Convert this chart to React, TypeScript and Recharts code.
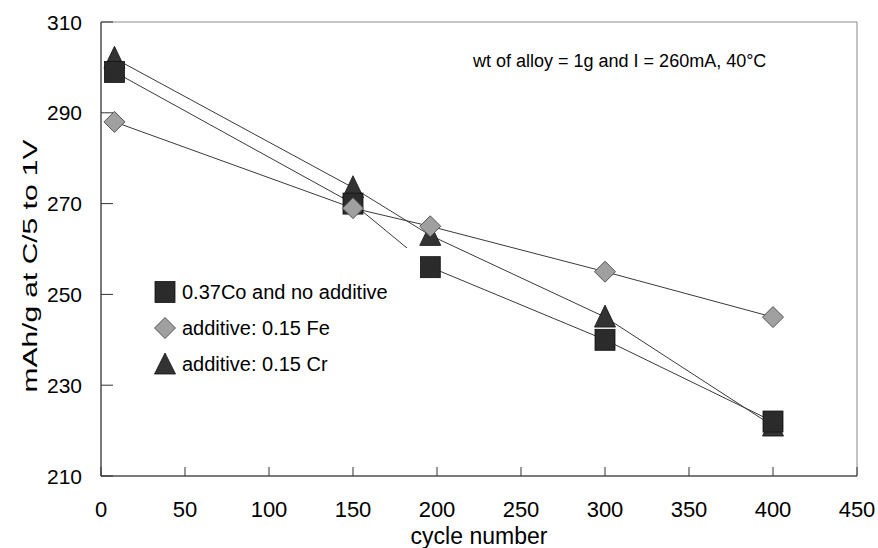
import React from 'react';
import { LineChart, Line, XAxis, YAxis, ReferenceArea, Legend } from 'recharts';

const cycles = [8, 150, 196, 300, 400];
const coNoAdditive = [299, 270, 256, 240, 222];
const fe015 = [288, 269, 265, 255, 245];
const cr015 = [302, 273.5, 263, 245, 221];
const seriesNames = ['0.37Co and no additive', 'additive: 0.15 Fe', 'additive: 0.15 Cr'];
const xTicks = [0, 50, 100, 150, 200, 250, 300, 350, 400, 450];
const yTicks = [210, 230, 250, 270, 290, 310];
const xTitle = 'cycle number';
const yTitle = 'mAh/g at C/5 to 1V';
const note = 'wt of alloy = 1g and I = 260mA, 40°C';

const data = cycles.map((c, i) => ({ cycle: c, co: coNoAdditive[i], fe: fe015[i], cr: cr015[i] }));

const FONT = '"Liberation Sans", Arial, sans-serif';

const SquareMark = ({ cx, cy }: any) => (
  <rect x={cx - 10} y={cy - 10.5} width={20} height={21} fill="#2b2b2b" stroke="#111" strokeWidth={0.8} />
);
const DiamondMark = ({ cx, cy }: any) => (
  <path d={`M${cx},${cy - 10.5} L${cx + 10.5},${cy} L${cx},${cy + 10.5} L${cx - 10.5},${cy} Z`} fill="#a0a0a0" stroke="#555" strokeWidth={1} />
);
const TriangleMark = ({ cx, cy }: any) => (
  <path d={`M${cx},${cy - 12} L${cx + 10.5},${cy + 10} L${cx - 10.5},${cy + 10} Z`} fill="#333" stroke="#111" strokeWidth={0.8} />
);

const XTick = (props: any) => {
  const { x, y, payload } = props;
  return (
    <g>
      <line x1={x} x2={x} y1={y} y2={y - 9} stroke="#333" strokeWidth={1} />
      <text x={x} y={y + 41} textAnchor="middle" fontSize={22} fontFamily={FONT} fill="#000">{payload.value}</text>
    </g>
  );
};

const YTick = (props: any) => {
  const { x, y, payload } = props;
  return (
    <g>
      <line x1={x} x2={x + 12} y1={y} y2={y} stroke="#333" strokeWidth={1} />
      <text x={x - 19} y={y + 7.5} textAnchor="end" fontSize={21} fontFamily={FONT} fill="#000">{payload.value}</text>
    </g>
  );
};

const YLabel = (props: any) => {
  const vb = props.viewBox || { x: 0, y: 22, width: 101, height: 454 };
  const cx = 29;
  const cy = vb.y + vb.height / 2 + 17;
  return (
    <text x={cx} y={cy} transform={`rotate(-90 ${cx} ${cy})`} textAnchor="middle" dominantBaseline="central"
      fontSize={21} fontFamily={FONT} fill="#000" textLength={253} lengthAdjust="spacingAndGlyphs">{yTitle}</text>
  );
};

const XLabel = (props: any) => {
  const vb = props.viewBox || { x: 101, y: 476, width: 756, height: 72 };
  return (
    <text x={vb.x + vb.width / 2} y={544} textAnchor="middle" fontSize={23} fontFamily={FONT} fill="#000">{xTitle}</text>
  );
};

const legendIcons = [
  (<svg width={22} height={22} key="a"><rect x={1} y={0.5} width={20} height={21} fill="#2b2b2b" stroke="#111" strokeWidth={0.8} /></svg>),
  (<svg width={22} height={22} key="b"><path d="M11,0.5 L21.5,11 L11,21.5 L0.5,11 Z" fill="#a0a0a0" stroke="#555" /></svg>),
  (<svg width={22} height={22} key="c"><path d="M11,0 L21.5,21 L0.5,21 Z" fill="#333" stroke="#111" strokeWidth={0.8} /></svg>),
];

const LegendContent = () => (
  <div style={{ background: '#fff', width: 270, height: 132, position: 'relative', fontFamily: FONT }}>
    {seriesNames.map((n, i) => (
      <div key={n} style={{ position: 'absolute', left: 4, top: 33 + i * 36, height: 22, display: 'flex', alignItems: 'center', whiteSpace: 'nowrap' }}>
        {legendIcons[i]}
        <span style={{ fontSize: 20, marginLeft: 6, color: '#000' }}>{n}</span>
      </div>
    ))}
  </div>
);

export default function App() {
  return (
    <div style={{ position: 'absolute', left: 0, top: 0, width: 878, height: 548, background: '#fff' }}>
      <LineChart width={878} height={548} data={data} margin={{ top: 22, right: 21, left: 0, bottom: 0 }}>
        <ReferenceArea x1={0} x2={450} y1={210} y2={310} fill="none" stroke="#888" strokeWidth={1} />
        <XAxis dataKey="cycle" type="number" domain={[0, 450]} ticks={xTicks} height={72}
          tickSize={0} tickMargin={0} tick={<XTick />} axisLine={{ stroke: '#333' }} interval={0}
          label={XLabel} />
        <YAxis type="number" domain={[210, 310]} ticks={yTicks} width={101}
          tickSize={0} tickMargin={0} tick={<YTick />} axisLine={{ stroke: '#333' }} interval={0}
          label={YLabel} />
        <Line dataKey="cr" name={seriesNames[2]} stroke="#3a3a3a" strokeWidth={1} isAnimationActive={false}
          dot={(p: any) => <TriangleMark key={`cr${p.index}`} cx={p.cx} cy={p.cy} />} activeDot={false} />
        <Line dataKey="co" name={seriesNames[0]} stroke="#3a3a3a" strokeWidth={1} isAnimationActive={false}
          dot={(p: any) => <SquareMark key={`co${p.index}`} cx={p.cx} cy={p.cy} />} activeDot={false} />
        <Line dataKey="fe" name={seriesNames[1]} stroke="#3a3a3a" strokeWidth={1} isAnimationActive={false}
          dot={(p: any) => <DiamondMark key={`fe${p.index}`} cx={p.cx} cy={p.cy} />} activeDot={false} />
        <Legend layout="horizontal" verticalAlign="middle" align="center" content={<LegendContent />}
          wrapperStyle={{ left: 150, top: 248, width: 270, height: 132 }} />
      </LineChart>
      <svg style={{ position: 'absolute', left: 0, top: 0, pointerEvents: 'none' }} width={878} height={80}>
        <text x={473} y={67} fontSize={18} fontFamily={FONT} fill="#000">{note}</text>
      </svg>
    </div>
  );
}
